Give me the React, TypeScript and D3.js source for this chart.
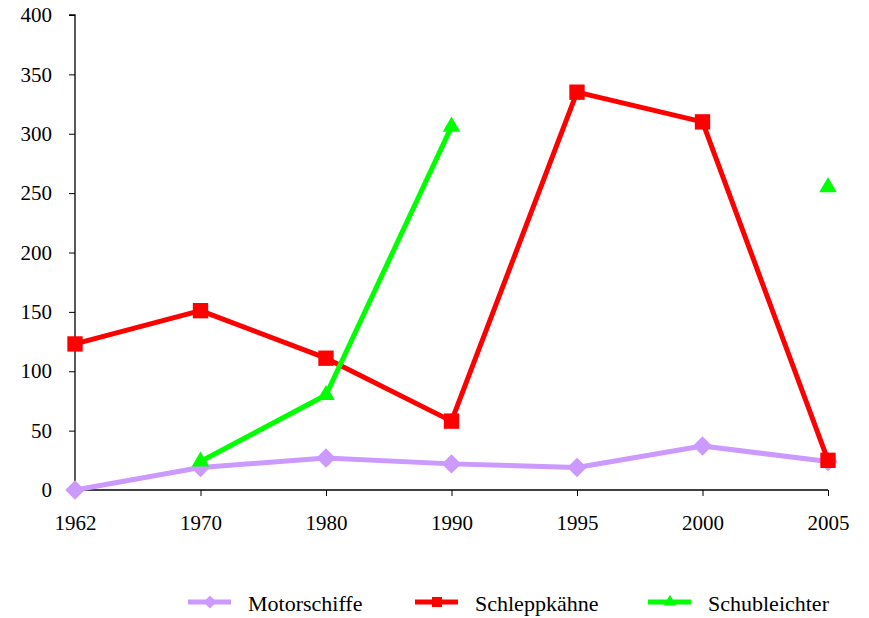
import React, { useEffect, useRef } from 'react';
import * as d3 from 'd3'

const years = ['1962', '1970', '1980', '1990', '1995', '2000', '2005']
const motorschiffe: (number | null)[] = [0, 19, 27, 22, 19, 37, 24]
const schleppkaehne: (number | null)[] = [123, 151, 111, 58, 335, 310, 25]
const schubleichter: (number | null)[] = [null, 24, 80, 306, null, null, 255]
const yTicks = [0, 50, 100, 150, 200, 250, 300, 350, 400]

type Series = { name: string, color: string, shape: 'diamond' | 'square' | 'triangle', values: (number | null)[] }

const series: Series[] = [
  { name: 'Motorschiffe', color: '#CC99FF', shape: 'diamond', values: motorschiffe },
  { name: 'Schleppkähne', color: '#FF0000', shape: 'square', values: schleppkaehne },
  { name: 'Schubleichter', color: '#00FF00', shape: 'triangle', values: schubleichter },
]

const symbolFor = (shape: Series['shape'], size: number) => {
  if (shape === 'diamond') return d3.symbol().type(d3.symbolDiamond2).size(size)()
  if (shape === 'square') return d3.symbol().type(d3.symbolSquare2).size(size)()
  return d3.symbol().type(d3.symbolTriangle2).size(size)()
}

const App: React.FC = () => {
  const svgRef = useRef() as React.MutableRefObject<SVGSVGElement>

  useEffect(() => {
    const W = 869, H = 618
    const left = 75, right = 828, top = 15, bottom = 490
    const font = "'Liberation Serif', 'Times New Roman', serif"

    d3.select(svgRef.current).html('')
    const svg = d3.select(svgRef.current)
      .attr('width', W).attr('height', H)
      .style('position', 'absolute').style('left', 0).style('top', 0)

    const x = d3.scalePoint().domain(years).range([left, right])
    const y = d3.scaleLinear().domain([0, 400]).range([bottom, top])

    // axes
    const yAxis = svg.append('g')
      .attr('transform', `translate(${left},0)`)
      .call(d3.axisLeft(y).tickValues(yTicks).tickSize(6).tickPadding(17))
    const xAxis = svg.append('g')
      .attr('transform', `translate(0,${bottom})`)
      .call(d3.axisBottom(x).tickSize(6).tickPadding(19))

    for (const ax of [yAxis, xAxis]) {
      ax.select('.domain').attr('stroke', '#000').attr('stroke-width', 1.3)
      ax.selectAll('.tick line').attr('stroke', '#000')
      ax.selectAll('.tick text')
        .attr('font-family', font).attr('font-size', 21).attr('fill', '#000')
    }
    yAxis.select('.domain').attr('d', `M-6,${top}H0V${bottom}`)
    xAxis.select('.domain').attr('d', `M${left},0H${right}`)

    // lines
    const line = d3.line<number | null>()
      .defined(d => d != null)
      .x((_, i) => x(years[i])!)
      .y(d => y(d as number))

    for (const s of series) {
      svg.append('path')
        .datum(s.values)
        .attr('fill', 'none')
        .attr('stroke', s.color)
        .attr('stroke-width', 5)
        .attr('stroke-linejoin', 'round')
        .attr('d', line)

      const markerSize = s.shape === 'square' ? 300 : s.shape === 'triangle' ? 220 : 240
      svg.append('g').selectAll('path')
        .data(s.values.map((v, i) => ({ v, i })).filter(d => d.v != null))
        .join('path')
        .attr('transform', d => `translate(${x(years[d.i])},${y(d.v as number)})`)
        .attr('d', symbolFor(s.shape, markerSize))
        .attr('fill', s.color)
    }

    // legend
    const legendX = [188, 415, 648]
    series.forEach((s, i) => {
      const g = svg.append('g').attr('transform', `translate(${legendX[i]},602)`)
      g.append('line').attr('x1', 0).attr('x2', 43).attr('y1', 0).attr('y2', 0)
        .attr('stroke', s.color).attr('stroke-width', 5)
      g.append('path').attr('transform', 'translate(22,0)')
        .attr('d', symbolFor(s.shape, s.shape === 'square' ? 130 : 110))
        .attr('fill', s.color)
      g.append('text').attr('x', 60).attr('y', 9)
        .attr('font-family', font).attr('font-size', 22).attr('fill', '#000')
        .text(s.name)
    })
  }, [])

  return <svg ref={svgRef} />
}

export default App
